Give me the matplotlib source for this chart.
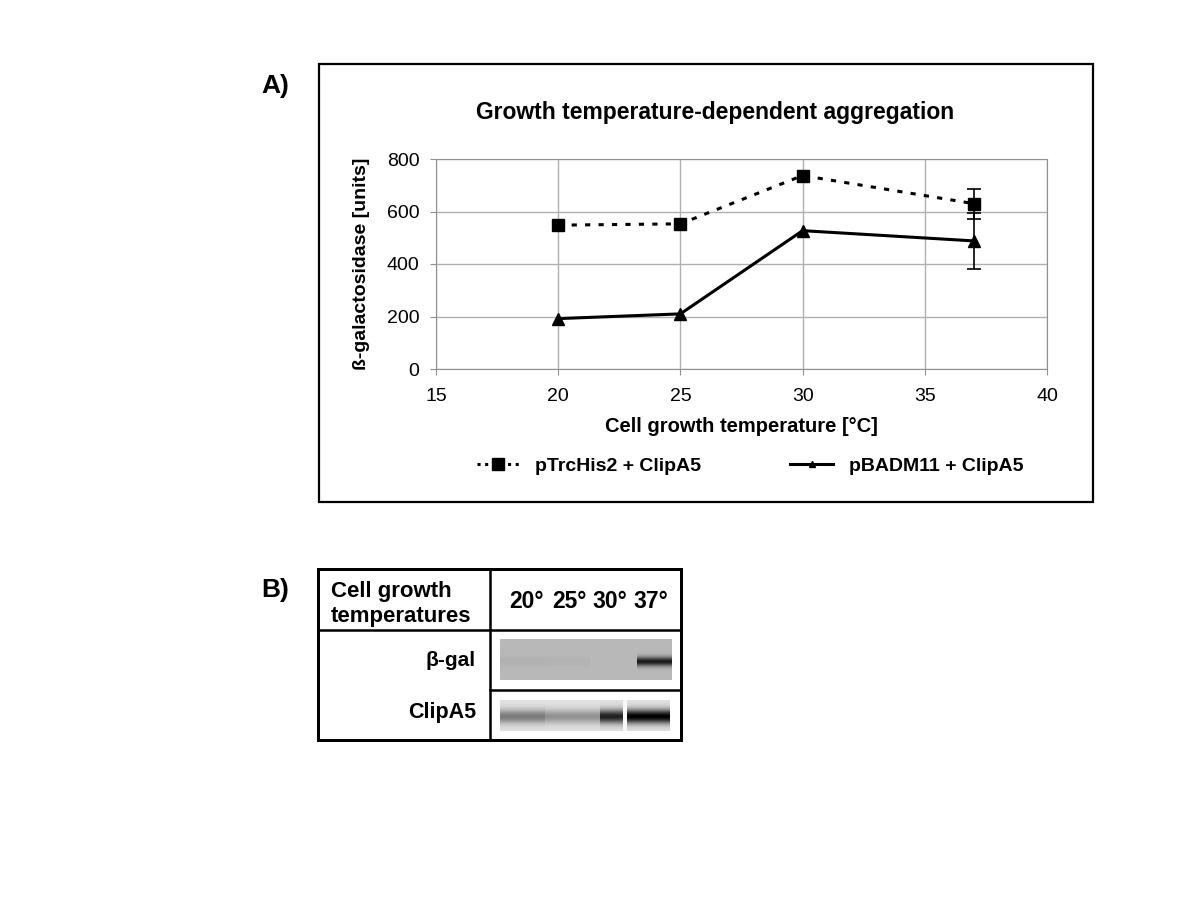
import numpy as np
import matplotlib
matplotlib.use("Agg")
import matplotlib.pyplot as plt
from matplotlib.lines import Line2D

# data
temps = [20, 25, 30, 37]
trc_vals = [548, 553, 737, 630]
trc_err = [0, 0, 0, 57]
bad_vals = [192, 210, 527, 488]
bad_err = [0, 0, 0, 108]

lane_labels = ["20°", "25°", "30°", "37°"]
bgal_band = [0.04, 0.03, 0.0, 0.85]
clip_band = [0.45, 0.35, 0.85, 1.0]

FONT = ["Liberation Sans", "DejaVu Sans"]

fig = plt.figure(figsize=(12, 8.99), dpi=100)

def fx(px):
    return px / 1200

def fy(py):
    return 1 - py / 899

# ---- panel A frame
fig.patches.append(plt.Rectangle((fx(319), fy(502)), fx(1093) - fx(319), fy(64) - fy(502),
                                 transform=fig.transFigure, fill=False, lw=1.6, ec="black"))
fig.text(fx(261), fy(86), "A)", fontsize=19, fontweight="bold", family=FONT, va="center")
fig.text(fx(261), fy(590), "B)", fontsize=19, fontweight="bold", family=FONT, va="center")

ax = fig.add_axes([fx(436), fy(369), fx(1047) - fx(436), fy(159) - fy(369)])
ax.plot(temps, trc_vals, color="black", lw=2.2, ls=(0, (1.7, 2.7)), marker="s", ms=8)
ax.plot(temps, bad_vals, color="black", lw=2.2, marker="^", ms=8)
ax.errorbar([temps[3]], [trc_vals[3]], yerr=[trc_err[3]], color="black", lw=1.2,
            capsize=5, capthick=1.2, fmt="none")
ax.errorbar([temps[3]], [bad_vals[3]], yerr=[bad_err[3]], color="black", lw=1.2,
            capsize=5, capthick=1.2, fmt="none")
ax.set_xlim(15, 40)
ax.set_ylim(0, 800)
ax.set_xticks([15, 20, 25, 30, 35, 40])
ax.set_yticks([0, 200, 400, 600, 800])
ax.grid(True, color="#b0b0b0", lw=1)
ax.set_axisbelow(True)
for s in ax.spines.values():
    s.set_color("#909090")
ax.tick_params(colors="#909090", labelcolor="black", length=4, labelsize=14)
ax.tick_params(axis="x", pad=10)
ax.tick_params(axis="y", pad=8)
for lab in ax.get_xticklabels() + ax.get_yticklabels():
    lab.set_family(FONT)
fig.text(fx(715), fy(113), "Growth temperature-dependent aggregation", fontsize=16.5,
         fontweight="bold", family=FONT, ha="center", va="center")
ax.set_xlabel("Cell growth temperature [°C]", fontsize=14.5, fontweight="bold", family=FONT,
              labelpad=8)
ax.set_ylabel("ß-galactosidase [units]", fontsize=14, fontweight="bold", family=FONT,
              labelpad=12)

handles = [Line2D([], [], color="black", lw=2.2, ls=(0, (1, 1.5)), marker="s", ms=8),
           Line2D([], [], color="black", lw=2.2, marker="^", ms=5)]
fig.legend(handles, ["pTrcHis2 + ClipA5", "pBADM11 + ClipA5"], loc="center",
           bbox_to_anchor=(fx(750), fy(466)), ncol=2, frameon=False, columnspacing=4.6,
           handlelength=2.2, prop={"family": FONT, "weight": "bold", "size": 14})

# ---- panel B table
bx = fig.add_axes([fx(318), fy(740), fx(681) - fx(318), fy(569) - fy(740)])
bx.set_xlim(318, 681)
bx.set_ylim(740, 569)
bx.axis("off")
lw = 1.8
bx.plot([318, 681, 681, 318, 318], [569, 569, 740, 740, 569], color="black", lw=lw * 1.2,
        clip_on=False, solid_joinstyle="miter")
bx.plot([490, 490], [569, 740], color="black", lw=lw, clip_on=False)
bx.plot([318, 681], [630, 630], color="black", lw=lw, clip_on=False)
bx.plot([490, 681], [690, 690], color="black", lw=lw, clip_on=False)

bx.text(331, 604, "Cell growth\ntemperatures", fontsize=16, fontweight="bold", family=FONT,
        va="center", ha="left", linespacing=1.3)
lane_x = [526, 569, 610, 651]
for x, lab in zip(lane_x, lane_labels):
    bx.text(x, 601, lab, fontsize=16.5, fontweight="bold", family=FONT, ha="center", va="center")
bx.text(476, 660, "β-gal", fontsize=15, fontweight="bold", family=FONT, ha="right", va="center")
bx.text(476, 712, "ClipA5", fontsize=15.5, fontweight="bold", family=FONT, ha="right",
        va="center")

# blot images, built from band intensities per lane
def blot(bands, x0, x1, y0, y1, bg, centre, width, edges):
    w, h = int(x1 - x0), int(y1 - y0)
    img = np.full((h, w), bg)
    yy = np.arange(h)[:, None]
    for i, b in enumerate(bands):
        a, c = int(edges[i] - x0), int(edges[i + 1] - x0)
        prof = np.exp(-((yy - centre) / width) ** 2)
        img[:, a:c] = bg - b * bg * prof[:, :1].repeat(c - a, axis=1)
    return img

img1 = blot(bgal_band, 500, 672, 639, 680, 0.72, 22, 4.5, [500, 545, 590, 637, 672])
bx.imshow(img1, cmap="gray", vmin=0, vmax=1, extent=[500, 672, 680, 639], aspect="auto")
img2 = blot(clip_band, 500, 670, 700, 731, 0.88, 16, 7, [500, 545, 600, 625, 670])
img2[:, 123:127] = 0.97
bx.imshow(img2, cmap="gray", vmin=0, vmax=1, extent=[500, 670, 731, 700], aspect="auto")
bx.set_xlim(318, 681)
bx.set_ylim(740, 569)

fig.savefig("out.png", dpi=100)
